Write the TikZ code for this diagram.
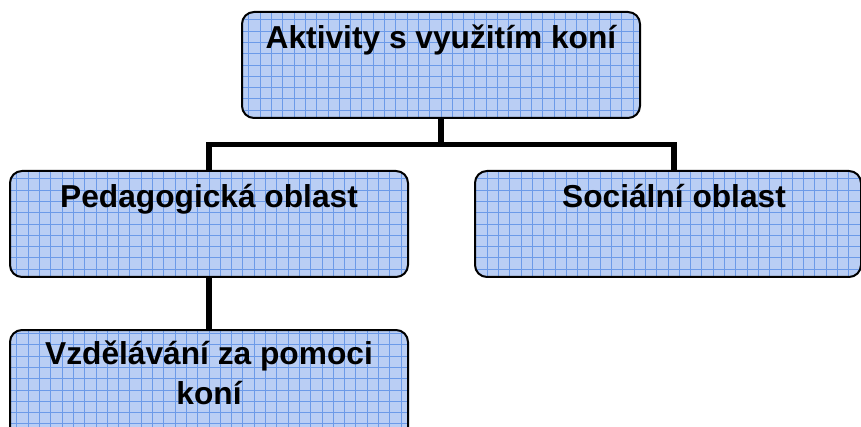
\documentclass[tikz,border=0pt]{standalone}
\usepackage{fontspec}
\setmainfont{Liberation Sans}
\definecolor{boxbg}{RGB}{186,206,244}
\definecolor{gridln}{RGB}{108,154,232}
\begin{document}
\begin{tikzpicture}[x=1pt,y=-1pt,
  box/.style={draw=black, line width=2pt, rounded corners=12pt, fill=boxbg,
    path picture={\draw[gridln, line width=0.9pt, step=11.3pt]
      ([shift={(-12,12)}]path picture bounding box.south west) grid
      ([shift={(12,-12)}]path picture bounding box.north east);}},
  txt/.style={font=\bfseries\fontsize{31.7}{40}\selectfont, align=center, inner sep=0pt},
  conn/.style={line width=5.5pt}]
\useasboundingbox (0,0) rectangle (861,427);
\clip (0,0) rectangle (861,427);
\node[box, minimum width=398, minimum height=106, inner sep=0pt,
  label={[txt, anchor=north, yshift=-14pt]north:Aktivity s využitím koní}] (top) at (441,65) {};
\node[box, minimum width=398, minimum height=106, inner sep=0pt,
  label={[txt, anchor=north, yshift=-14pt]north:Pedagogická oblast}] (ped) at (209,224) {};
\node[box, minimum width=386, minimum height=106, inner sep=0pt,
  label={[txt, anchor=north, yshift=-14pt, xshift=6pt]north:Sociální oblast}] (soc) at (668,224) {};
\node[box, minimum width=398, minimum height=120, inner sep=0pt,
  label={[txt, anchor=north, yshift=-12pt]north:Vzdělávání za pomoci\\koní}] (vzd) at (209,390) {};
\coordinate (hj) at (441,144.5);
\coordinate (socin) at ([xshift=6pt]soc.north);
\draw[conn] (top.south) -- (hj);
\draw[conn] (ped.north) |- (hj) -| (socin);
\draw[conn] (ped.south) -- (vzd.north);
\end{tikzpicture}
\end{document}
